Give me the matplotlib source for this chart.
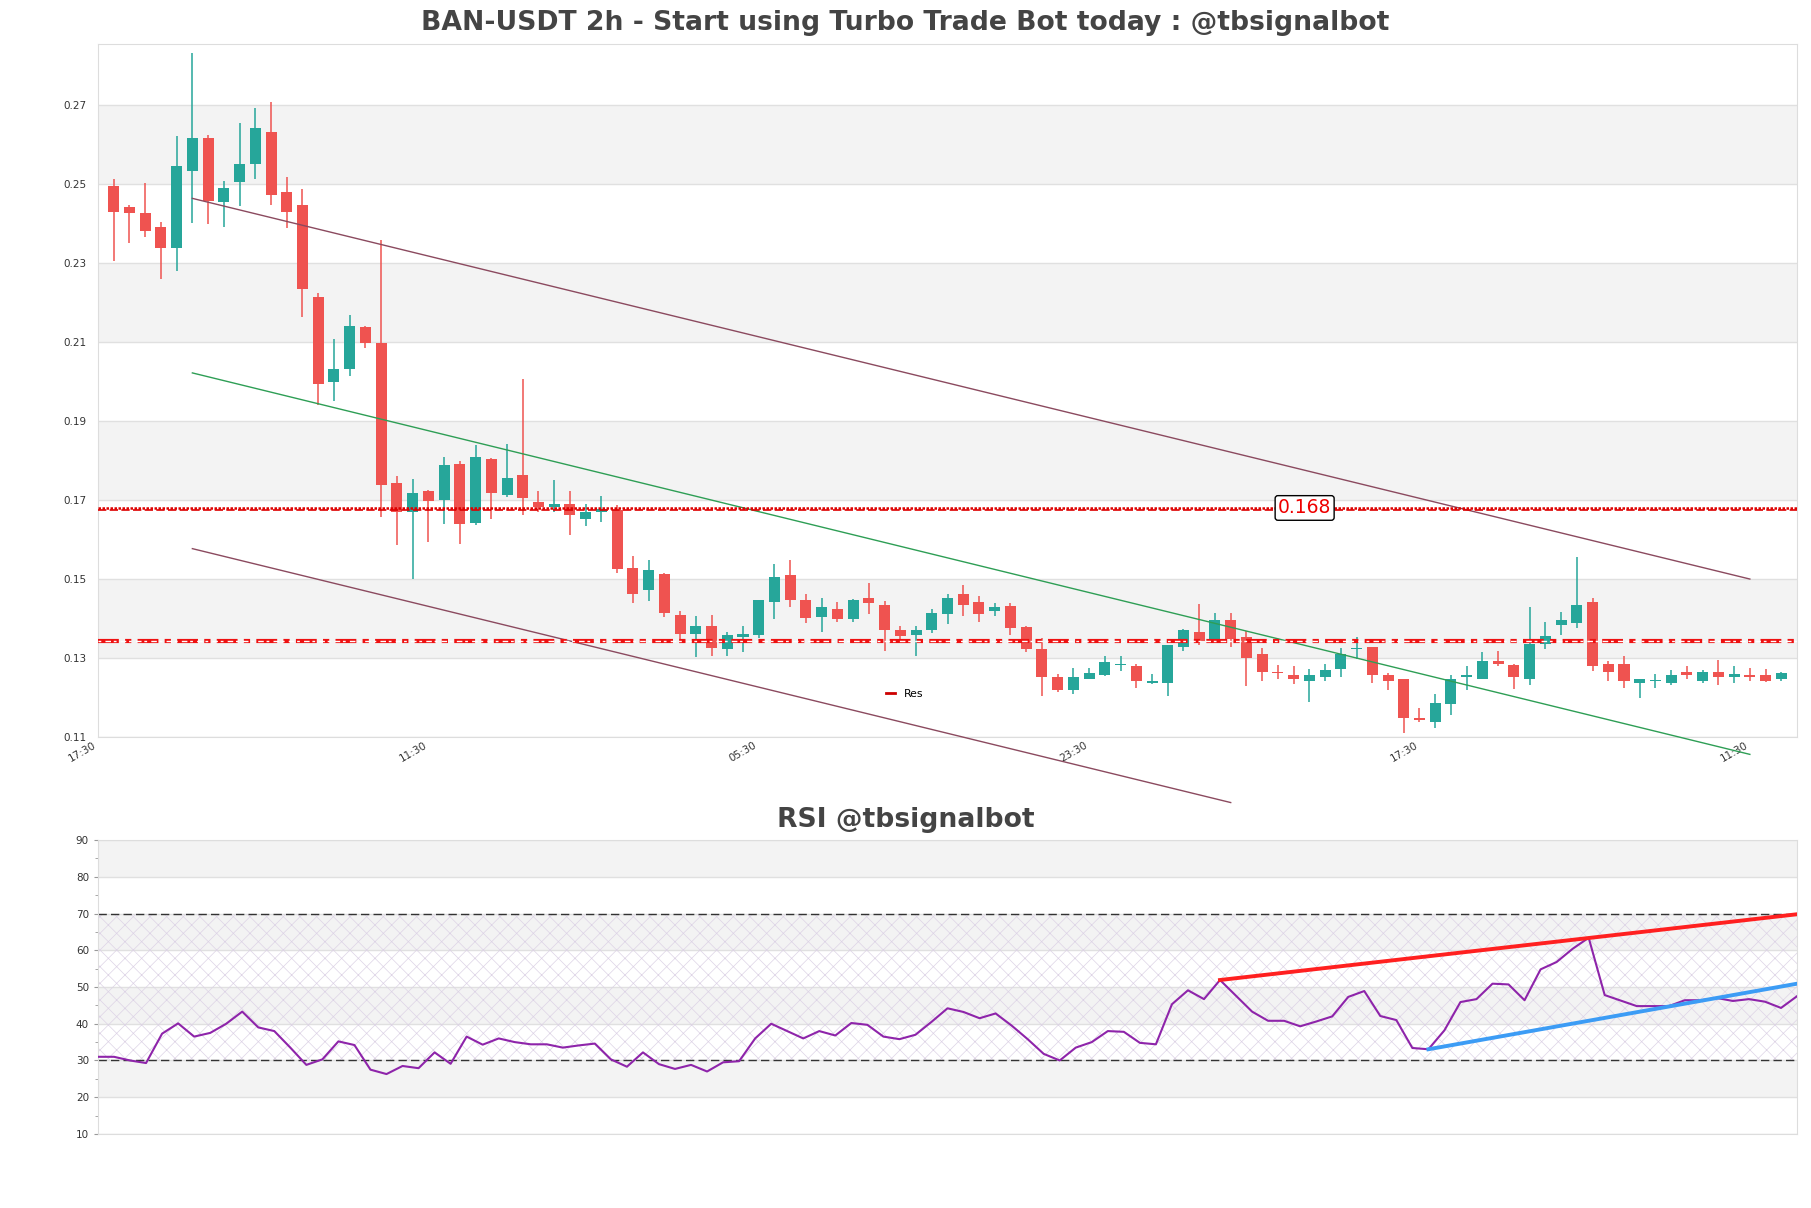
import matplotlib
matplotlib.use("Agg")
import matplotlib.pyplot as plt
import numpy as np

# --- candle data (2h) ---
opens = [0.2496, 0.2443, 0.2428, 0.2392, 0.2338, 0.2533, 0.2616, 0.2454, 0.2505, 0.2550,
         0.2633, 0.2479, 0.2446, 0.2215, 0.1998, 0.2031, 0.2139, 0.2098, 0.1744, 0.1671,
         0.1723, 0.1699, 0.1792, 0.1643, 0.1804, 0.1714, 0.1764, 0.1695, 0.1683, 0.1690,
         0.1653, 0.1671, 0.1675, 0.1528, 0.1471, 0.1513, 0.1410, 0.1362, 0.1382, 0.1322,
         0.1352, 0.1358, 0.1441, 0.1511, 0.1448, 0.1405, 0.1425, 0.1400, 0.1451, 0.1435,
         0.1372, 0.1358, 0.1370, 0.1412, 0.1461, 0.1443, 0.1420, 0.1433, 0.1378, 0.1322,
         0.1253, 0.1218, 0.1248, 0.1256, 0.1283, 0.1281, 0.1236, 0.1236, 0.1327, 0.1367,
         0.1341, 0.1397, 0.1354, 0.1311, 0.1265, 0.1258, 0.1243, 0.1251, 0.1271, 0.1322,
         0.1327, 0.1258, 0.1246, 0.1149, 0.1139, 0.1183, 0.1251, 0.1248, 0.1292, 0.1283,
         0.1246, 0.1335, 0.1383, 0.1388, 0.1441, 0.1286, 0.1286, 0.1238, 0.1242, 0.1238,
         0.1264, 0.1243, 0.1265, 0.1251, 0.1258, 0.1258, 0.1246]
highs = [0.2512, 0.2448, 0.2503, 0.2403, 0.2621, 0.2831, 0.2624, 0.2509, 0.2656, 0.2692,
         0.2709, 0.2519, 0.2489, 0.2224, 0.2109, 0.2169, 0.2141, 0.2359, 0.1761, 0.1753,
         0.1725, 0.1809, 0.1798, 0.1839, 0.1806, 0.1842, 0.2007, 0.1723, 0.1751, 0.1723,
         0.1691, 0.1711, 0.1688, 0.1558, 0.1548, 0.1515, 0.1418, 0.1407, 0.1410, 0.1367,
         0.1382, 0.1448, 0.1537, 0.1547, 0.1461, 0.1452, 0.1443, 0.1450, 0.1489, 0.1445,
         0.1380, 0.1380, 0.1425, 0.1461, 0.1484, 0.1458, 0.1440, 0.1440, 0.1380, 0.1350,
         0.1259, 0.1274, 0.1274, 0.1304, 0.1304, 0.1286, 0.1259, 0.1334, 0.1373, 0.1438,
         0.1415, 0.1415, 0.1369, 0.1325, 0.1283, 0.1279, 0.1273, 0.1286, 0.1326, 0.1352,
         0.1329, 0.1262, 0.1248, 0.1173, 0.1208, 0.1256, 0.1279, 0.1314, 0.1319, 0.1285,
         0.1428, 0.1392, 0.1416, 0.1555, 0.1452, 0.1292, 0.1304, 0.1247, 0.1259, 0.1269,
         0.1279, 0.1269, 0.1296, 0.1281, 0.1276, 0.1273, 0.1264]
lows = [0.2305, 0.2350, 0.2365, 0.2259, 0.2279, 0.2401, 0.2398, 0.2392, 0.2444, 0.2512,
        0.2447, 0.2388, 0.2163, 0.1941, 0.1950, 0.2013, 0.2084, 0.1658, 0.1585, 0.1500,
        0.1595, 0.1640, 0.1590, 0.1638, 0.1653, 0.1709, 0.1661, 0.1671, 0.1671, 0.1612,
        0.1635, 0.1645, 0.1516, 0.1440, 0.1445, 0.1403, 0.1338, 0.1302, 0.1304, 0.1304,
        0.1314, 0.1350, 0.1398, 0.1428, 0.1388, 0.1365, 0.1392, 0.1390, 0.1412, 0.1317,
        0.1342, 0.1304, 0.1363, 0.1385, 0.1407, 0.1390, 0.1407, 0.1358, 0.1314, 0.1203,
        0.1213, 0.1210, 0.1246, 0.1254, 0.1266, 0.1223, 0.1234, 0.1205, 0.1319, 0.1333,
        0.1338, 0.1328, 0.1228, 0.1241, 0.1246, 0.1233, 0.1188, 0.1243, 0.1251, 0.1297,
        0.1236, 0.1218, 0.1109, 0.1139, 0.1122, 0.1155, 0.1218, 0.1246, 0.1281, 0.1221,
        0.1231, 0.1322, 0.1358, 0.1376, 0.1266, 0.1243, 0.1223, 0.1200, 0.1223, 0.1231,
        0.1246, 0.1236, 0.1231, 0.1238, 0.1241, 0.1240, 0.1241]
closes = [0.2429, 0.2426, 0.2381, 0.2338, 0.2545, 0.2618, 0.2458, 0.2491, 0.2552, 0.2641,
          0.2472, 0.2429, 0.2234, 0.1993, 0.2033, 0.2142, 0.2097, 0.1739, 0.1671, 0.1718,
          0.1698, 0.1789, 0.1640, 0.1809, 0.1719, 0.1756, 0.1706, 0.1682, 0.1690, 0.1661,
          0.1671, 0.1678, 0.1526, 0.1463, 0.1523, 0.1415, 0.1362, 0.1380, 0.1325, 0.1359,
          0.1362, 0.1446, 0.1504, 0.1446, 0.1402, 0.1430, 0.1400, 0.1448, 0.1440, 0.1370,
          0.1355, 0.1372, 0.1415, 0.1453, 0.1435, 0.1412, 0.1430, 0.1375, 0.1322, 0.1253,
          0.1218, 0.1251, 0.1261, 0.1289, 0.1286, 0.1241, 0.1241, 0.1332, 0.1372, 0.1342,
          0.1397, 0.1348, 0.1299, 0.1264, 0.1263, 0.1248, 0.1258, 0.1270, 0.1311, 0.1325,
          0.1256, 0.1243, 0.1149, 0.1144, 0.1185, 0.1248, 0.1256, 0.1293, 0.1286, 0.1251,
          0.1335, 0.1355, 0.1397, 0.1435, 0.1281, 0.1264, 0.1243, 0.1246, 0.1244, 0.1258,
          0.1256, 0.1264, 0.1253, 0.1259, 0.1253, 0.1241, 0.1261]

rsi = [31.0, 31.0, 30.0, 29.3, 37.3, 40.1, 36.5, 37.5, 40.0, 43.3,
       39.0, 38.0, 33.5, 28.8, 30.3, 35.2, 34.2, 27.5, 26.3, 28.5,
       27.9, 32.2, 29.1, 36.5, 34.3, 36.0, 35.0, 34.4, 34.4, 33.5,
       34.1, 34.6, 30.3, 28.3, 32.2, 29.0, 27.7, 28.8, 27.0, 29.5,
       29.8, 36.0, 40.0, 38.0, 36.0, 38.0, 36.8, 40.2, 39.7, 36.5,
       35.8, 37.0, 40.5, 44.2, 43.2, 41.5, 42.8, 39.5, 35.8, 31.8,
       30.0, 33.5, 35.0, 38.0, 37.8, 34.8, 34.4, 45.3, 49.1, 46.7,
       51.9, 47.6, 43.3, 40.8, 40.8, 39.3, 40.6, 42.0, 47.3, 48.9,
       42.1, 41.0, 33.4, 33.05, 38.2, 45.9, 46.7, 50.9, 50.7, 46.4,
       54.8, 56.8, 60.4, 63.4, 47.8, 46.3, 44.8, 44.8, 44.8, 46.4,
       46.4, 47.0, 46.2, 46.7, 46.0, 44.3, 47.5]

tick_pos = [-1, 20, 41, 62, 83, 104]
tick_labels = ["17:30", "11:30", "05:30", "23:30", "17:30", "11:30"]

# channel lines: (x0, y0, x1, y1)
upper_line = (5, 0.2464, 104, 0.1500)
mid_line = (5, 0.2022, 104, 0.1056)
lower_line = (5, 0.1577, 71, 0.0934)

res_level = 0.168
res_level2 = 0.1674
sup_level = 0.1342

rsi_top_line = (70, 51.9, 106, 69.8)
rsi_bot_line = (83, 33.05, 106, 50.9)

GREEN = "#26a69a"
RED = "#ef5350"
BAND = "#f3f3f3"
GRID = "#e0e0e0"
TXT = "#444444"

plt.rcParams["hatch.linewidth"] = 0.5

fig = plt.figure(figsize=(18.11, 12.08), dpi=100)
ax = fig.add_axes([0.0541, 0.3899, 0.9382, 0.5737])
ax_rsi = fig.add_axes([0.0541, 0.0613, 0.9382, 0.2433])

# ---- main chart ----
n = len(closes)
x = np.arange(n)
o = np.array(opens)
c = np.array(closes)
h = np.array(highs)
lo = np.array(lows)
up = c >= o
colors = np.where(up, GREEN, RED)

for y0 in [0.13, 0.17, 0.21, 0.25]:
    ax.axhspan(y0, y0 + 0.02, color=BAND, zorder=0, lw=0)
for yt in np.arange(0.11, 0.28, 0.02):
    ax.axhline(yt, color=GRID, lw=1, zorder=0.5)

ax.vlines(x, lo, h, colors=colors, lw=1.1, zorder=2)
body_bottom = np.minimum(o, c)
body_h = np.maximum(np.abs(c - o), 0.0002)
ax.bar(x, body_h, bottom=body_bottom, width=0.7, color=colors, zorder=3, lw=0)

for (x0, y0, x1, y1), col in [(upper_line, "#8b4a5f"), (mid_line, "#2e9e55"), (lower_line, "#8b4a5f")]:
    ax.plot([x0, x1], [y0, y1], color=col, lw=1.0, zorder=4, clip_on=False)

# resistance lines
ax.axhline(res_level, color="#dd0000", lw=1.8, ls=(0, (1, 0.6)), zorder=5)
ax.axhline(res_level2, color="#dd0000", lw=1.2, ls=(0, (5, 2)), zorder=5)
ax.axhline(sup_level, color="#ee1111", lw=3.0, ls=(0, (5, 1.5, 1.5, 1.5)), zorder=5)
ax.axhline(sup_level, color="white", lw=1.0, ls=(0, (2, 3, 4, 2)), zorder=5.1)
ax.plot([], [], color="#cc0000", lw=2, label="Res")

ax.text(75.7, res_level, "0.168", color="#ee0000", fontsize=13.5, ha="center", va="center", zorder=6,
        bbox=dict(boxstyle="round,pad=0.15", fc="white", ec="black", lw=1))

ax.set_xlim(-1, 107)
ax.set_ylim(0.11, 0.2855)
ax.set_yticks(np.arange(0.11, 0.28, 0.02))
ax.set_yticklabels([f"{v:.2f}" for v in np.arange(0.11, 0.28, 0.02)])
ax.set_xticks(tick_pos)
ax.set_xticklabels(tick_labels, rotation=30, ha="right")
ax.tick_params(axis="both", length=0, labelsize=7.5, colors="#333333", pad=8)
ax.tick_params(axis="x", pad=2)
for sp in ax.spines.values():
    sp.set_color("#dddddd")
ax.legend(loc="lower left", bbox_to_anchor=(0.458, 0.041), frameon=False, fontsize=7.8,
          handlelength=0.8, handletextpad=0.9)

fig.text(0.4997, 0.981, "BAN-USDT 2h - Start using Turbo Trade Bot today : @tbsignalbot",
         ha="center", va="center", fontsize=19.2, fontweight="bold", color=TXT)

# ---- RSI ----
xr = np.arange(len(rsi))
for y0 in [20, 40, 60, 80]:
    ax_rsi.axhspan(y0, y0 + 10, color=BAND, zorder=0, lw=0)
for yt in range(10, 91, 10):
    ax_rsi.axhline(yt, color=GRID, lw=1, zorder=0.5)
ax_rsi.fill_between([0, len(rsi) - 1], 30, 70, facecolor="none", edgecolor="#ddd3e6",
                    hatch="xx", lw=0, zorder=1)
ax_rsi.axhline(70, color="#333333", lw=1, ls=(0, (6, 3)), zorder=2)
ax_rsi.axhline(30, color="#333333", lw=1, ls=(0, (6, 3)), zorder=2)
ax_rsi.plot(xr, rsi, color="#8e24aa", lw=1.5, zorder=3)
ax_rsi.plot(rsi_top_line[0::2], rsi_top_line[1::2], color="#ff2020", lw=2.8, zorder=4)
ax_rsi.plot(rsi_bot_line[0::2], rsi_bot_line[1::2], color="#3c9cf5", lw=2.8, zorder=4)

ax_rsi.set_xlim(0, len(rsi) - 1)
ax_rsi.set_ylim(10, 90)
ax_rsi.set_yticks(range(10, 91, 10))
ax_rsi.set_yticks(range(15, 90, 10), minor=True)
ax_rsi.set_xticks([])
ax_rsi.tick_params(axis="y", which="major", length=3, color="#999999", labelsize=7.5, labelcolor="#333333")
ax_rsi.tick_params(axis="y", which="minor", length=2, color="#999999")
for sp in ax_rsi.spines.values():
    sp.set_color("#dddddd")

fig.text(0.5, 0.321, "RSI @tbsignalbot", ha="center", va="center", fontsize=19.2,
         fontweight="bold", color=TXT)

fig.savefig("out.png", dpi=100)
